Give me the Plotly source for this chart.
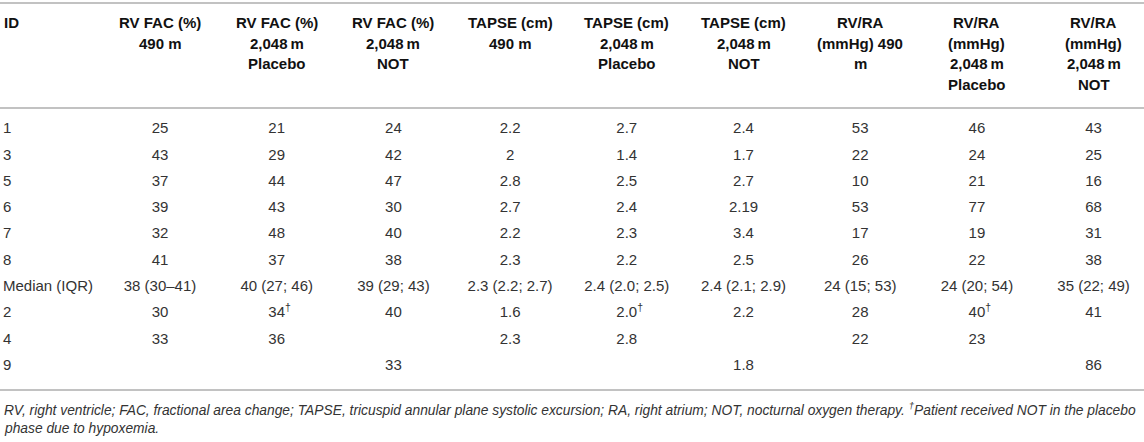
import plotly.graph_objects as go

# header labels, one string per line
headers = [
    ["RV FAC (%)", "490 m"],
    ["RV FAC (%)", "2,048\u2009m", "Placebo"],
    ["RV FAC (%)", "2,048\u2009m", "NOT"],
    ["TAPSE (cm)", "490 m"],
    ["TAPSE (cm)", "2,048\u2009m", "Placebo"],
    ["TAPSE (cm)", "2,048\u2009m", "NOT"],
    ["RV/RA", "(mmHg) 490", "m"],
    ["RV/RA", "(mmHg)", "2,048\u2009m", "Placebo"],
    ["RV/RA", "(mmHg)", "2,048\u2009m", "NOT"],
]

# table values, one list per column
ids = ["1", "3", "5", "6", "7", "8", "Median (IQR)", "2", "4", "9"]
rv_fac_490 = ["25", "43", "37", "39", "32", "41", "38 (30–41)", "30", "33", ""]
rv_fac_2048_placebo = ["21", "29", "44", "43", "48", "37", "40 (27; 46)", "34†", "36", ""]
rv_fac_2048_not = ["24", "42", "47", "30", "40", "38", "39 (29; 43)", "40", "", "33"]
tapse_490 = ["2.2", "2", "2.8", "2.7", "2.2", "2.3", "2.3 (2.2; 2.7)", "1.6", "2.3", ""]
tapse_2048_placebo = ["2.7", "1.4", "2.5", "2.4", "2.3", "2.2", "2.4 (2.0; 2.5)", "2.0†", "2.8", ""]
tapse_2048_not = ["2.4", "1.7", "2.7", "2.19", "3.4", "2.5", "2.4 (2.1; 2.9)", "2.2", "", "1.8"]
rvra_490 = ["53", "22", "10", "53", "17", "26", "24 (15; 53)", "28", "22", ""]
rvra_2048_placebo = ["46", "24", "21", "77", "19", "22", "24 (20; 54)", "40†", "23", ""]
rvra_2048_not = ["43", "25", "16", "68", "31", "38", "35 (22; 49)", "41", "", "86"]

footnote = [
    "RV, right ventricle; FAC, fractional area change; TAPSE, tricuspid annular plane "
    "systolic excursion; RA, right atrium; NOT, nocturnal oxygen therapy. "
    "<sup>†</sup>Patient received NOT in the placebo",
    "phase due to hypoxemia.",
]

value_cols = [rv_fac_490, rv_fac_2048_placebo, rv_fac_2048_not,
              tapse_490, tapse_2048_placebo, tapse_2048_not,
              rvra_490, rvra_2048_placebo, rvra_2048_not]

W, H = 1144, 442
FONT = "Liberation Sans"
BODY = "#333333"
HEAD = "#111111"
RULE = "#c2c2c2"

# pixel layout of the grid
COL1_PX, COL_PX = 160, 116.7     # centre of first value column, column pitch
ROW0_PX, ROW_PX = 129.5, 26.3    # centre of first body row, row pitch
LEFT_PX = 3
HEAD_PX, HEAD_LINE = 22.5, 20.7  # first header line centre, header line spacing
RULES_PX = (3, 108, 390)
FOOT_PX, FOOT_LINE = 408.5, 20


def px_to_x(p):
    return 1 + (p - COL1_PX) / COL_PX


def px_to_y(p):
    return (p - ROW0_PX) / ROW_PX


def paper_y(p):
    return 1 - p / H


def fmt(s):
    # dagger as superscript, with an invisible twin in front so the number stays centred
    if s.endswith("†"):
        ghost = "<sup><span style='color:rgba(0,0,0,0)'>†</span></sup>"
        return ghost + s[:-1] + "<sup>†</sup>"
    return s


rows = list(range(len(ids)))
fig = go.Figure()

fig.add_trace(go.Scatter(
    x=[px_to_x(LEFT_PX)] * len(ids), y=rows, text=ids, mode="text",
    textposition="middle right", hoverinfo="skip",
    textfont=dict(family=FONT, size=15, color=BODY)))

for k, col in enumerate(value_cols, start=1):
    fig.add_trace(go.Scatter(
        x=[k] * len(col), y=rows, text=[fmt(v) for v in col], mode="text",
        textposition="middle center", hoverinfo="skip",
        textfont=dict(family=FONT, size=15, color=BODY)))

# column headers
fig.add_annotation(text="<b>ID</b>", x=px_to_x(LEFT_PX), y=paper_y(HEAD_PX),
                   xref="x", yref="paper", xanchor="left", yanchor="middle",
                   showarrow=False, borderpad=0,
                   font=dict(family=FONT, size=15, color=HEAD))
for k, lines in enumerate(headers, start=1):
    for i, line in enumerate(lines):
        fig.add_annotation(text="<b>%s</b>" % line, x=k, y=paper_y(HEAD_PX + i * HEAD_LINE),
                           xref="x", yref="paper", xanchor="center", yanchor="middle",
                           showarrow=False, borderpad=0,
                           font=dict(family=FONT, size=15, color=HEAD))

# horizontal rules
for yp in RULES_PX:
    fig.add_shape(type="line", xref="paper", yref="paper", x0=0, x1=1,
                  y0=paper_y(yp), y1=paper_y(yp), line=dict(color=RULE, width=2))

for i, line in enumerate(footnote):
    fig.add_annotation(text="<i>%s</i>" % line, xref="paper", yref="paper",
                       x=LEFT_PX / W, y=paper_y(FOOT_PX + i * FOOT_LINE),
                       xanchor="left", yanchor="middle", align="left",
                       showarrow=False, borderpad=0,
                       font=dict(family=FONT, size=13.8, color=BODY))

fig.update_layout(
    width=W, height=H, margin=dict(l=0, r=0, t=0, b=0),
    paper_bgcolor="white", plot_bgcolor="white", showlegend=False,
    xaxis=dict(range=[px_to_x(0), px_to_x(W)], visible=False, fixedrange=True),
    yaxis=dict(range=[px_to_y(H), px_to_y(0)], visible=False, fixedrange=True),
)

# page body has an 8px default margin; drop it so the figure fills the window
fig.write_html("out.html", config={"displayModeBar": False},
               post_script="document.body.style.margin='0px';")
